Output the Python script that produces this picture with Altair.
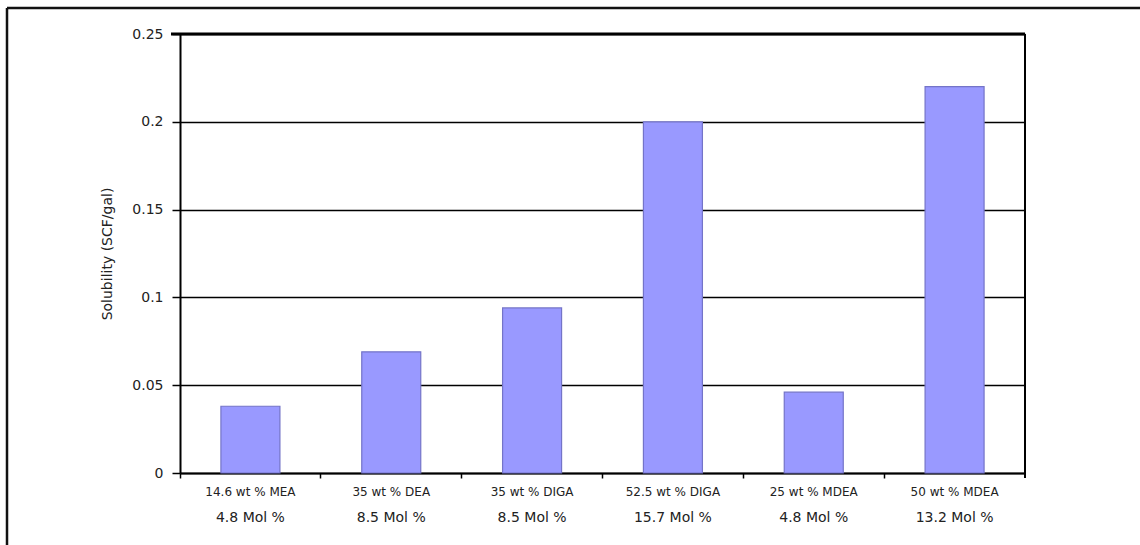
import altair as alt
import pandas as pd

# ---- data ----
line1 = ["14.6 wt % MEA", "35 wt % DEA", "35 wt % DIGA",
         "52.5 wt % DIGA", "25 wt % MDEA", "50 wt % MDEA"]
line2 = ["4.8 Mol %", "8.5 Mol %", "8.5 Mol %",
         "15.7 Mol %", "4.8 Mol %", "13.2 Mol %"]
solubility = [0.038, 0.069, 0.094, 0.200, 0.046, 0.220]
y_ticks = [0, 0.05, 0.1, 0.15, 0.2, 0.25]

df = pd.DataFrame({"amine": line1, "mol": line2, "sol": solubility})
one = pd.DataFrame({"k": [0]})

W, H = 845, 439
FONT = "DejaVu Sans"
INK = "#222222"

x_enc = alt.X("amine:N", sort=line1,
              scale=alt.Scale(paddingInner=0, paddingOuter=0),
              axis=alt.Axis(title=None, labelAngle=0, labelFont=FONT,
                            labelFontSize=12, labelColor=INK,
                            labelPadding=8, tickSize=5, tickColor="black",
                            tickWidth=1.5, domainColor="black",
                            domainWidth=2, bandPosition=0, grid=False))

bars = alt.Chart(df).mark_bar(size=59, color="#9999FF", stroke="#7474C8",
                              strokeWidth=1.2).encode(
    x=x_enc,
    y=alt.Y("sol:Q", scale=alt.Scale(domain=[0, 0.25], nice=False),
            axis=alt.Axis(title="Solubility (SCF/gal)", values=y_ticks,
                          format=".2~f", grid=True, gridColor="black",
                          gridWidth=1.3, domainColor="black", domainWidth=2,
                          tickColor="black", tickWidth=1.5, tickSize=8,
                          labelFont=FONT, labelFontSize=14,
                          labelColor=INK, labelPadding=9,
                          titleFont=FONT, titleFontSize=14,
                          titleFontWeight="normal", titleColor=INK,
                          titleX=-73, titleY=H / 2, titleAngle=-90,
                          titleAlign="center", titleBaseline="middle")),
)

second = alt.Chart(df).mark_text(font=FONT, fontSize=14, color=INK,
                                 baseline="middle", align="center").encode(
    x=alt.X("amine:N", sort=line1),
    y=alt.value(H + 45),
    text="mol:N",
)

top_border = alt.Chart(one).mark_rule(color="black", strokeWidth=3).encode(
    x=alt.value(-9), x2=alt.value(W), y=alt.value(0))
right_border = alt.Chart(one).mark_rule(color="black", strokeWidth=2).encode(
    x=alt.value(W), y=alt.value(0), y2=alt.value(H + 5))
frame_top = alt.Chart(one).mark_rule(color="#111111", strokeWidth=2.5).encode(
    x=alt.value(-173), x2=alt.value(1100), y=alt.value(-26))
frame_left = alt.Chart(one).mark_rule(color="#111111", strokeWidth=2.5).encode(
    x=alt.value(-173), y=alt.value(-26), y2=alt.value(700))

chart = alt.layer(bars, second, top_border, right_border,
                  frame_top, frame_left).properties(
    width=W, height=H,
    autosize=alt.AutoSizeParams(type="none"),
    padding={"left": 180, "top": 34, "right": 115, "bottom": 72},
    background="white",
).configure_view(stroke=None)

chart.save("out.html", embed_options={"renderer": "svg", "actions": False})
